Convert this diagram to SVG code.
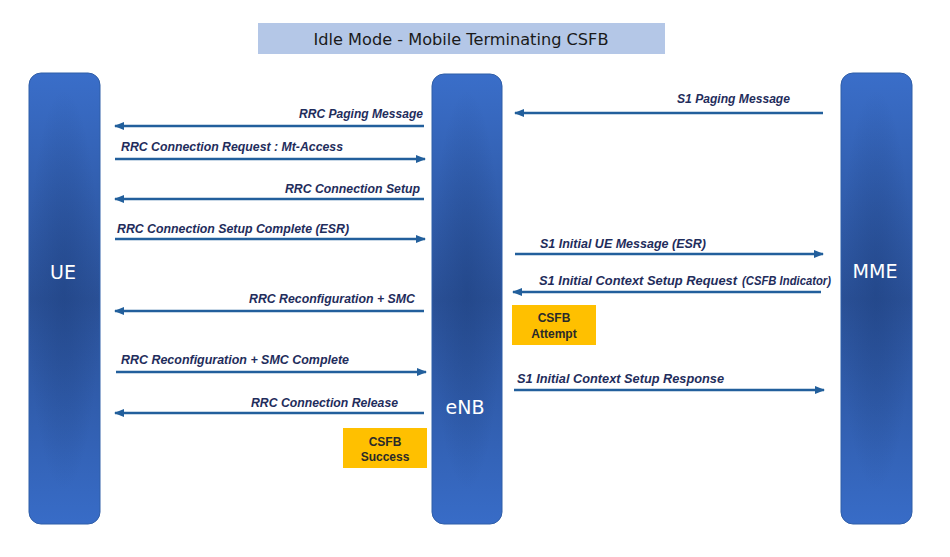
<svg xmlns="http://www.w3.org/2000/svg" width="950" height="557" viewBox="0 0 950 557">
<defs>
<linearGradient id="bar" x1="0" y1="0" x2="0" y2="1">
<stop offset="0" stop-color="#3a6ec9"/>
<stop offset="0.5" stop-color="#2a5096"/>
<stop offset="1" stop-color="#386cc7"/>
</linearGradient>
<radialGradient id="shade" cx="0.5" cy="0.5" r="0.5">
<stop offset="0" stop-color="#1d3f7e" stop-opacity="0.45"/>
<stop offset="1" stop-color="#1d3f7e" stop-opacity="0"/>
</radialGradient>
<marker id="ah" viewBox="0 0 10 10" refX="9" refY="5" markerWidth="10" markerHeight="10" markerUnits="userSpaceOnUse" orient="auto">
<path d="M0,1 L10,5 L0,9 Z" fill="#225f9c"/>
</marker>
</defs>
<style>
.bar{fill:url(#bar);stroke:#2f5ea8;stroke-width:1}
.nl{font-family:"DejaVu Sans","Liberation Sans",sans-serif;font-size:19px;fill:#ffffff;text-anchor:middle}
.ml{font-family:"Liberation Sans",Arial,sans-serif;font-size:12.5px;font-weight:bold;font-style:italic;fill:#1f2d5c}
.cn line{stroke:#225f9c;stroke-width:2.5;marker-end:url(#ah)}
.note{fill:#ffc000}
.nt{font-family:"Liberation Sans",Arial,sans-serif;font-size:12px;font-weight:bold;fill:#2a2a2a;text-anchor:middle}
.title{font-family:"DejaVu Sans","Liberation Sans",sans-serif;font-size:16.5px;fill:#1a1a1a;text-anchor:middle}
</style>
<rect width="950" height="557" fill="#ffffff"/>
<g id="title">
<rect x="258" y="23" width="407" height="31" fill="#b4c7e7"/>
<text class="title" x="461" y="45" textLength="295" lengthAdjust="spacingAndGlyphs">Idle Mode - Mobile Terminating CSFB</text>
</g>
<g id="node-ue">
<rect class="bar" x="29" y="73" width="71" height="451" rx="12"/>
<ellipse cx="64" cy="290" rx="36" ry="200" fill="url(#shade)"/>
<text class="nl" x="63" y="279">UE</text>
</g>
<g id="node-enb">
<rect class="bar" x="432" y="74" width="70" height="450" rx="12"/>
<ellipse cx="467" cy="290" rx="35" ry="200" fill="url(#shade)"/>
<text class="nl" x="465" y="414">eNB</text>
</g>
<g id="node-mme">
<rect class="bar" x="841" y="73" width="71" height="451" rx="12"/>
<ellipse cx="876" cy="290" rx="36" ry="200" fill="url(#shade)"/>
<text class="nl" x="875" y="278" textLength="45" lengthAdjust="spacingAndGlyphs">MME</text>
</g>
<g id="connectors" class="cn">
<line x1="424" y1="126" x2="115" y2="126"/>
<line x1="115" y1="159" x2="425" y2="159"/>
<line x1="424" y1="199" x2="115" y2="199"/>
<line x1="115" y1="239" x2="425" y2="239"/>
<line x1="424" y1="311" x2="115" y2="311"/>
<line x1="116" y1="372" x2="426" y2="372"/>
<line x1="424" y1="413" x2="115" y2="413"/>
<line x1="823" y1="113" x2="515" y2="113"/>
<line x1="515" y1="254" x2="823" y2="254"/>
<line x1="821" y1="292" x2="513" y2="292"/>
<line x1="514" y1="390" x2="824" y2="390"/>
</g>
<g id="labels">
<text class="ml" x="299" y="118" textLength="124" lengthAdjust="spacingAndGlyphs">RRC Paging Message</text>
<text class="ml" x="121" y="151" textLength="222" lengthAdjust="spacingAndGlyphs">RRC Connection Request : Mt-Access</text>
<text class="ml" x="285" y="193" textLength="135" lengthAdjust="spacingAndGlyphs">RRC Connection Setup</text>
<text class="ml" x="117" y="233" textLength="232" lengthAdjust="spacingAndGlyphs">RRC Connection Setup Complete (ESR)</text>
<text class="ml" x="249" y="303" textLength="166" lengthAdjust="spacingAndGlyphs">RRC Reconfiguration + SMC</text>
<text class="ml" x="121" y="364" textLength="228" lengthAdjust="spacingAndGlyphs">RRC Reconfiguration + SMC Complete</text>
<text class="ml" x="251" y="407" textLength="147" lengthAdjust="spacingAndGlyphs">RRC Connection Release</text>
<text class="ml" x="677" y="103" textLength="113" lengthAdjust="spacingAndGlyphs">S1 Paging Message</text>
<text class="ml" x="540" y="248" textLength="166" lengthAdjust="spacingAndGlyphs">S1 Initial UE Message (ESR)</text>
<text class="ml" x="539" y="285" textLength="198" lengthAdjust="spacingAndGlyphs">S1 Initial Context Setup Request</text>
<text class="ml" x="742" y="285" font-size="11" textLength="89" lengthAdjust="spacingAndGlyphs">(CSFB Indicator)</text>
<text class="ml" x="517" y="383" textLength="207" lengthAdjust="spacingAndGlyphs">S1 Initial Context Setup Response</text>
</g>
<g id="note-attempt">
<rect class="note" x="512" y="305" width="84" height="40"/>
<text class="nt" x="554" y="322">CSFB</text>
<text class="nt" x="554" y="338">Attempt</text>
</g>
<g id="note-success">
<rect class="note" x="343" y="428" width="84" height="40"/>
<text class="nt" x="385" y="446">CSFB</text>
<text class="nt" x="385" y="461">Success</text>
</g>
</svg>
